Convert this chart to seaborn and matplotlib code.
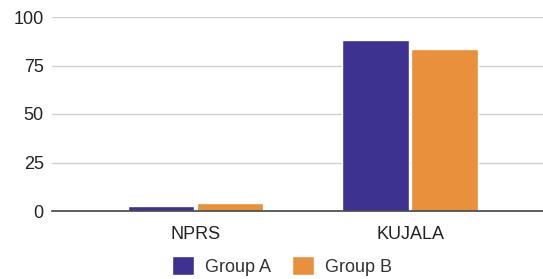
import pandas as pd
import matplotlib
matplotlib.use("Agg")
import matplotlib.pyplot as plt
import seaborn as sns

# values
categories = ["NPRS", "KUJALA"]
groups = ["Group A", "Group B"]
group_a = [2.6, 88]
group_b = [4, 83.5]
y_ticks = [0, 25, 50, 75, 100]

df = pd.DataFrame({
    "measure": categories * 2,
    "group": [groups[0]] * len(categories) + [groups[1]] * len(categories),
    "value": group_a + group_b,
})

sns.set_theme(style="white")
plt.rcParams["font.family"] = ["Liberation Sans", "DejaVu Sans"]

fig = plt.figure(figsize=(5.43, 2.79), dpi=100)
ax = fig.add_axes([52 / 543, 1 - 211 / 279, 491 / 543, 194 / 279])

sns.barplot(
    data=df, x="measure", y="value", hue="group",
    palette=["#3d3290", "#e8903b"], width=0.645, gap=0.04,
    saturation=1, ax=ax, legend=True,
)

ax.set_ylim(0, 100)
ax.set_yticks(y_ticks)
ax.set_xlim(-0.67, 1.62)
ax.yaxis.grid(True, color="#d0d0d0", linewidth=1)
ax.set_axisbelow(True)
for s in ["top", "right", "left"]:
    ax.spines[s].set_visible(False)
ax.spines["bottom"].set_color("#444444")
ax.spines["bottom"].set_linewidth(1.2)
ax.tick_params(axis="both", length=0, labelsize=13, labelcolor="#222222")
ax.tick_params(axis="x", pad=11)
ax.tick_params(axis="y", pad=6)
ax.set_xlabel("")
ax.set_ylabel("")

handles, labels = ax.get_legend_handles_labels()
ax.get_legend().remove()
fig.legend(
    handles, labels, loc="center", bbox_to_anchor=(282 / 543, 1 - 266 / 279),
    ncol=2, frameon=False, fontsize=13, handlelength=1.2, handleheight=1.2,
    handletextpad=0.6, columnspacing=1.2, labelcolor="#333333",
    borderpad=0, borderaxespad=0,
)

fig.savefig("out.png", dpi=100)
